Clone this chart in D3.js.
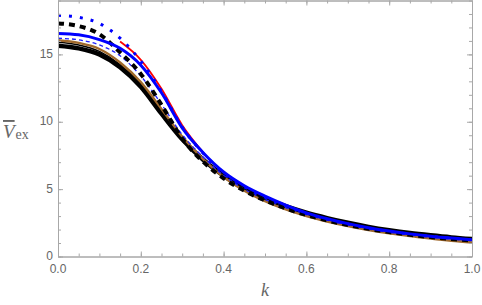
<!DOCTYPE html>
<html>
<head>
<meta charset="utf-8">
<script src="https://cdn.jsdelivr.net/npm/d3@7"></script>
<style>
  body { margin: 0; background: #fff; }
  svg { display: block; }
</style>
</head>
<body>
<svg id="chart"></svg>
<script>
// k grid shared by all the series
const kValues = [0, 0.05, 0.1, 0.15, 0.2, 0.25, 0.3, 0.35, 0.4, 0.45, 0.5,
                 0.55, 0.6, 0.65, 0.7, 0.75, 0.8, 0.85, 0.9, 0.95, 1.0];

const blackThick  = [15.65, 15.45, 15.0, 14.05, 12.6, 10.6, 8.7, 7.2, 6.0, 5.05, 4.32, 3.73, 3.25, 2.85, 2.5, 2.2, 1.95, 1.74, 1.57, 1.42, 1.3];
const blackThin   = [15.9, 15.7, 15.22, 14.25, 12.8, 10.8, 8.8, 7.25, 5.95, 4.98, 4.24, 3.64, 3.16, 2.76, 2.41, 2.11, 1.87, 1.67, 1.5, 1.36, 1.24];
const brown       = [16.05, 15.85, 15.4, 14.4, 12.95, 10.95, 8.9, 7.25, 5.9, 4.88, 4.1, 3.49, 3.0, 2.6, 2.26, 1.97, 1.72, 1.51, 1.33, 1.17, 1.04];
const blueDashed  = [16.2, 16.08, 15.7, 14.9, 13.4, 11.3, 9.05, 7.4, 6.02, 5.0, 4.24, 3.63, 3.14, 2.73, 2.38, 2.08, 1.83, 1.63, 1.46, 1.32, 1.2];
const blackDashed = [17.3, 17.1, 16.5, 15.15, 13.55, 11.25, 8.75, 7.05, 5.8, 4.88, 4.16, 3.57, 3.08, 2.68, 2.34, 2.05, 1.81, 1.61, 1.44, 1.3, 1.18];
const blueSolid   = [16.55, 16.45, 16.1, 15.45, 14.2, 12.15, 9.55, 7.72, 6.27, 5.25, 4.48, 3.82, 3.24, 2.8, 2.44, 2.14, 1.89, 1.68, 1.51, 1.37, 1.25];
const blueDotted  = [17.9, 17.75, 17.3, 16.2, 14.5, 12.25, 9.6, 7.68, 6.2, 5.17, 4.4, 3.76, 3.19, 2.76, 2.41, 2.11, 1.86, 1.66, 1.49, 1.35, 1.23];
// red curve only shows on part of the range
const redK   = [0.15, 0.2, 0.25, 0.3, 0.35];
const redVal = [15.95, 14.6, 12.45, 9.75, 7.75];

const xTicks = [0, 0.2, 0.4, 0.6, 0.8, 1.0];
const yTicks = [0, 5, 10, 15];

const width = 482, height = 305;
const margin = { top: 0.5, right: 10, bottom: 48.5, left: 58 };

const svg = d3.select("#chart")
  .attr("width", width)
  .attr("height", height);

const x = d3.scaleLinear()
  .domain([0, 1])
  .range([margin.left, width - margin.right]);

const y = d3.scaleLinear()
  .domain([0, 19])
  .range([height - margin.bottom, margin.top]);

const frameColor = "#a8a8a8";
const textColor = "#666";

// curves
const line = d3.line()
  .x(d => x(d[0]))
  .y(d => y(d[1]))
  .curve(d3.curveMonotoneX);

const series = [
  { k: kValues, v: blackThick,  color: "#000",    w: 4.5, dash: null },
  { k: kValues, v: blackThin,   color: "#000",    w: 1.5, dash: null },
  { k: kValues, v: brown,       color: "#a0692c", w: 2.4, dash: null },
  { k: kValues, v: blueDashed,  color: "#2020ff", w: 1.3, dash: "4,3" },
  { k: kValues, v: blackDashed, color: "#000",    w: 4,   dash: "6,5" },
  { k: redK,    v: redVal,      color: "#ff0000", w: 1.8, dash: null },
  { k: kValues, v: blueSolid,   color: "#0000ff", w: 3,   dash: null },
  { k: kValues, v: blueDotted,  color: "#0000ff", w: 3,   dash: "3,8" }
];

svg.append("clipPath").attr("id", "plot-clip")
  .append("rect")
  .attr("x", x(0)).attr("y", y(19))
  .attr("width", x(1) - x(0)).attr("height", y(0) - y(19));

const g = svg.append("g").attr("clip-path", "url(#plot-clip)");

g.selectAll("path")
  .data(series)
  .enter()
  .append("path")
  .attr("d", s => line(s.k.map((k, i) => [k, s.v[i]])))
  .attr("fill", "none")
  .attr("stroke", s => s.color)
  .attr("stroke-width", s => s.w)
  .attr("stroke-dasharray", s => s.dash);

// frame with inward ticks on all four sides
const minorX = d3.range(0, 1.0001, 0.05);
const minorY = d3.range(0, 19.0001, 1);

function frameAxis(axis, transform) {
  svg.append("g")
    .attr("transform", transform)
    .call(axis)
    .call(a => a.selectAll("text").remove())
    .call(a => a.select(".domain").attr("stroke", frameColor))
    .call(a => a.selectAll(".tick line").attr("stroke", frameColor));
}

const yBottom = y(0), yTop = y(19), xLeft = x(0), xRight = x(1);

frameAxis(d3.axisBottom(x).tickValues(minorX).tickSize(-3).tickSizeOuter(0), `translate(0,${yBottom})`);
frameAxis(d3.axisBottom(x).tickValues(xTicks).tickSize(-5).tickSizeOuter(0), `translate(0,${yBottom})`);
frameAxis(d3.axisTop(x).tickValues(minorX).tickSize(-3).tickSizeOuter(0), `translate(0,${yTop})`);
frameAxis(d3.axisTop(x).tickValues(xTicks).tickSize(-5).tickSizeOuter(0), `translate(0,${yTop})`);
frameAxis(d3.axisLeft(y).tickValues(minorY).tickSize(-3).tickSizeOuter(0), `translate(${xLeft},0)`);
frameAxis(d3.axisLeft(y).tickValues(yTicks).tickSize(-5).tickSizeOuter(0), `translate(${xLeft},0)`);
frameAxis(d3.axisRight(y).tickValues(minorY).tickSize(-3).tickSizeOuter(0), `translate(${xRight},0)`);
frameAxis(d3.axisRight(y).tickValues(yTicks).tickSize(-5).tickSizeOuter(0), `translate(${xRight},0)`);

// tick labels
svg.append("g")
  .selectAll("text")
  .data(xTicks)
  .enter()
  .append("text")
  .attr("x", d => x(d))
  .attr("y", yBottom + 16)
  .attr("text-anchor", "middle")
  .attr("font-family", "Liberation Sans, Arial, sans-serif")
  .attr("font-size", 12)
  .attr("fill", textColor)
  .text(d => d3.format(".1f")(d));

svg.append("g")
  .selectAll("text")
  .data(yTicks)
  .enter()
  .append("text")
  .attr("x", xLeft - 5)
  .attr("y", d => y(d) + 3.5)
  .attr("text-anchor", "end")
  .attr("font-family", "Liberation Sans, Arial, sans-serif")
  .attr("font-size", 12)
  .attr("fill", textColor)
  .text(d => d);

// axis labels
svg.append("text")
  .attr("x", (xLeft + xRight) / 2)
  .attr("y", 296)
  .attr("text-anchor", "middle")
  .attr("font-family", "Liberation Serif, Times New Roman, serif")
  .attr("font-style", "italic")
  .attr("font-size", 18)
  .attr("fill", textColor)
  .text("k");

const yLabel = svg.append("text")
  .attr("x", 3)
  .attr("y", 138)
  .attr("font-family", "Liberation Serif, Times New Roman, serif")
  .attr("fill", textColor);

yLabel.append("tspan")
  .attr("font-style", "italic")
  .attr("font-size", 19)
  .attr("text-decoration", "overline")
  .text("V");

yLabel.append("tspan")
  .attr("font-size", 14)
  .attr("dx", 1)
  .attr("dy", 1)
  .text("ex");
</script>
</body>
</html>
